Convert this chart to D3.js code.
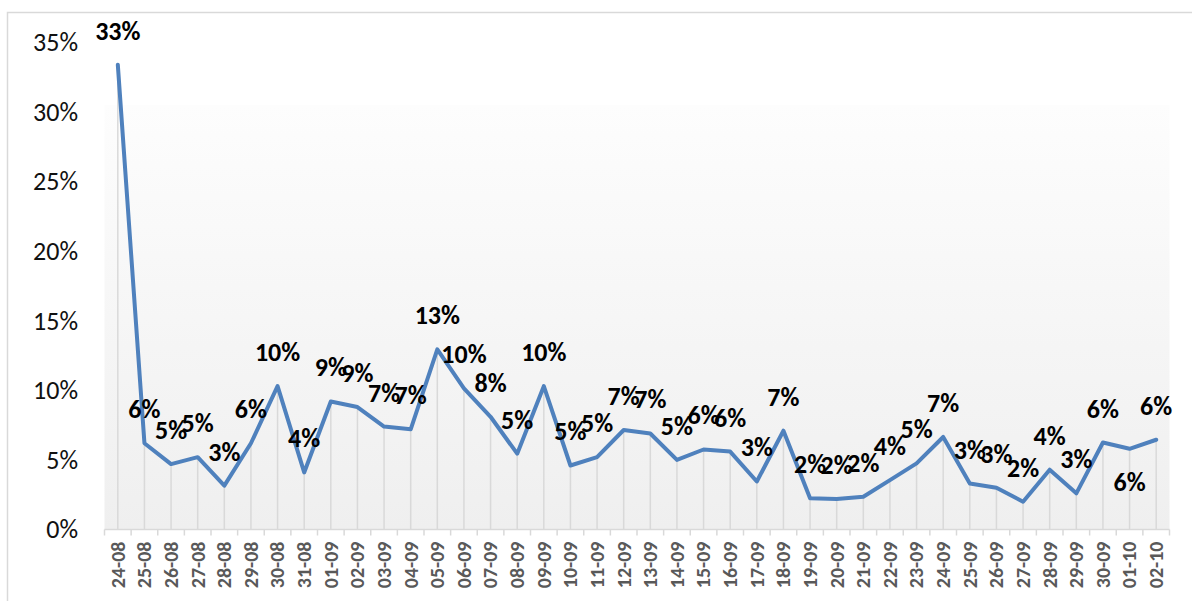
<!DOCTYPE html>
<html>
<head>
<meta charset="utf-8">
<script src="https://cdn.jsdelivr.net/npm/d3@7"></script>
<style>
  body { margin: 0; background: #fff; }
  svg { display: block; }
</style>
</head>
<body>
<svg id="chart" width="1192" height="601"></svg>
<script>
/* Data */
const dates = [
  '24-08', '25-08', '26-08', '27-08', '28-08', '29-08', '30-08', '31-08',
  '01-09', '02-09', '03-09', '04-09', '05-09', '06-09', '07-09', '08-09',
  '09-09', '10-09', '11-09', '12-09', '13-09', '14-09', '15-09', '16-09',
  '17-09', '18-09', '19-09', '20-09', '21-09', '22-09', '23-09', '24-09',
  '25-09', '26-09', '27-09', '28-09', '29-09', '30-09', '01-10', '02-10'
];
const rates = [
  0.334, 0.062, 0.047, 0.052, 0.0315, 0.062, 0.103, 0.041,
  0.092, 0.088, 0.074, 0.072, 0.1295, 0.1015, 0.081, 0.0545,
  0.103, 0.046, 0.052, 0.0715, 0.069, 0.050, 0.0575, 0.056,
  0.0345, 0.071, 0.0225, 0.022, 0.0235, 0.0355, 0.0475, 0.0665,
  0.033, 0.030, 0.020, 0.043, 0.026, 0.0625, 0.058, 0.0645
];
const yTicks = [0, 0.05, 0.10, 0.15, 0.20, 0.25, 0.30, 0.35];
const labelsBelow = ['01-10'];

const data = dates.map((d, i) => ({ date: d, value: rates[i] }));

/* SVG */
const svg = d3.select('#chart');
const width = +svg.attr('width');
const height = +svg.attr('height');
const FONT = 'Carlito, Calibri, "Liberation Sans", Arial, sans-serif';

/* Plot box */
const plot = { left: 104.5, right: 1169.5, top: 42.5, bottom: 529.5, bgTop: 105 };

/* Scales */
const x = d3.scaleBand()
  .domain(dates)
  .range([plot.left, plot.right])
  .padding(0);
const y = d3.scaleLinear()
  .domain([0, 0.35])
  .range([plot.bottom, plot.top]);
const cx = d => x(d) + x.bandwidth() / 2;

/* Frame */
svg.append('rect')
  .attr('x', 7.5)
  .attr('y', 12.5)
  .attr('width', width + 20)
  .attr('height', height + 20)
  .attr('fill', '#fff')
  .attr('stroke', '#d9d9d9')
  .attr('stroke-width', 1.5);

/* Plot background gradient */
const grad = svg.append('defs').append('linearGradient')
  .attr('id', 'bg')
  .attr('x1', 0).attr('y1', 0)
  .attr('x2', 0).attr('y2', 1);
grad.append('stop').attr('offset', '0%').attr('stop-color', '#fdfdfd');
grad.append('stop').attr('offset', '100%').attr('stop-color', '#efefef');

svg.append('rect')
  .attr('x', plot.left)
  .attr('y', plot.bgTop)
  .attr('width', plot.right - plot.left)
  .attr('height', plot.bottom - plot.bgTop)
  .attr('fill', 'url(#bg)');

/* Y axis labels (no line) */
svg.append('g')
  .selectAll('text')
  .data(yTicks)
  .enter().append('text')
  .attr('x', 78)
  .attr('y', d => y(d))
  .attr('dy', '0.34em')
  .attr('text-anchor', 'end')
  .attr('font-family', FONT)
  .attr('font-size', 26)
  .attr('fill', '#111')
  .text(d => Math.round(d * 100) + '%');

/* Drop lines */
svg.append('g')
  .selectAll('line')
  .data(data)
  .enter().append('line')
  .attr('x1', d => cx(d.date))
  .attr('x2', d => cx(d.date))
  .attr('y1', d => y(d.value))
  .attr('y2', plot.bottom)
  .attr('stroke', '#d9d9d9')
  .attr('stroke-width', 1.5);

/* X axis */
const xAxis = svg.append('g')
  .attr('transform', `translate(0,${plot.bottom})`);

xAxis.append('line')
  .attr('x1', plot.left)
  .attr('x2', plot.right)
  .attr('stroke', '#d9d9d9')
  .attr('stroke-width', 1.5);

xAxis.selectAll('.tick-mark')
  .data(dates.concat(['end']))
  .enter().append('line')
  .attr('class', 'tick-mark')
  .attr('x1', (d, i) => plot.left + i * x.bandwidth())
  .attr('x2', (d, i) => plot.left + i * x.bandwidth())
  .attr('y1', 0)
  .attr('y2', 6)
  .attr('stroke', '#d9d9d9')
  .attr('stroke-width', 1.5);

xAxis.selectAll('.tick-label')
  .data(dates)
  .enter().append('text')
  .attr('class', 'tick-label')
  .attr('transform', d => `translate(${cx(d)},12) rotate(-90)`)
  .attr('dy', '0.34em')
  .attr('text-anchor', 'end')
  .attr('font-family', FONT)
  .attr('font-weight', 'bold')
  .attr('font-size', 20)
  .attr('fill', '#595959')
  .text(d => d);

/* Line */
const line = d3.line()
  .x(d => cx(d.date))
  .y(d => y(d.value));

svg.append('path')
  .datum(data)
  .attr('d', line)
  .attr('fill', 'none')
  .attr('stroke', '#4f81bd')
  .attr('stroke-width', 4)
  .attr('stroke-linejoin', 'round')
  .attr('stroke-linecap', 'round');

/* Data labels */
svg.append('g')
  .selectAll('text')
  .data(data)
  .enter().append('text')
  .attr('x', d => cx(d.date))
  .attr('y', d => labelsBelow.includes(d.date) ? y(d.value) + 42 : y(d.value) - 25)
  .attr('text-anchor', 'middle')
  .attr('font-family', FONT)
  .attr('font-weight', 'bold')
  .attr('font-size', 26)
  .attr('fill', '#000')
  .text(d => Math.round(d.value * 100) + '%');
</script>
</body>
</html>
